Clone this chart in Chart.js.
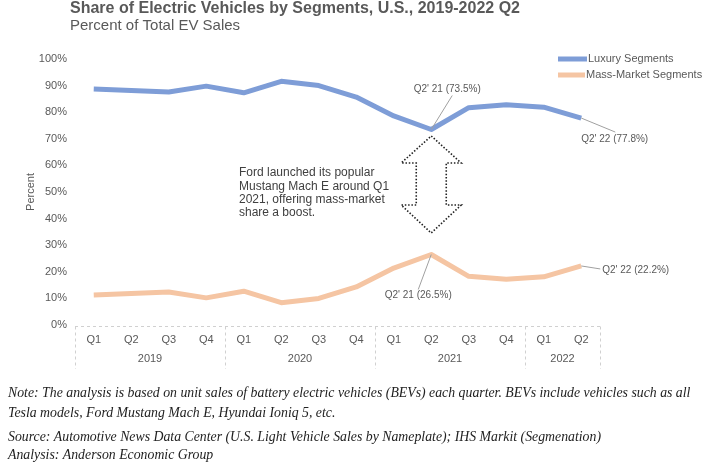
<!DOCTYPE html>
<html>
<head>
<meta charset="utf-8">
<script src="https://cdn.jsdelivr.net/npm/chart.js@4"></script>
<style>
html,body{margin:0;padding:0;background:#fff;}
#wrap{width:708px;height:463px;position:relative;}
</style>
</head>
<body>
<div id="wrap"><canvas id="c" width="708" height="463"></canvas></div>
<script>
// ---- data ----
const quarters = ['Q1','Q2','Q3','Q4','Q1','Q2','Q3','Q4','Q1','Q2','Q3','Q4','Q1','Q2'];
const years = ['2019','2020','2021','2022'];
const quartersPerYear = [4,4,4,2];
const luxury = [88.7, 88.2, 87.6, 89.8, 87.3, 91.6, 90.0, 85.7, 78.6, 73.5, 81.7, 82.8, 81.9, 77.8];
const massMarket = [11.3, 11.8, 12.4, 10.2, 12.7, 8.4, 10.0, 14.3, 21.4, 26.5, 18.3, 17.2, 18.1, 22.2];
const yTicks = [0,10,20,30,40,50,60,70,80,90,100];

const GREY = '#595959';
const BLUE = '#7e9dd7';
const PEACH = '#f5c5a3';
const SANS = '"Liberation Sans", Arial, sans-serif';
const SERIF = '"Liberation Serif", "Times New Roman", serif';

// year group centers / boundaries (in category index units)
const yearCenters = [], yearBounds = [-0.5];
{ let s = 0; quartersPerYear.forEach(n => { yearCenters.push(s + (n-1)/2); s += n; yearBounds.push(s - 0.5); }); }

const overlay = {
  id: 'overlay',
  afterDraw(chart) {
    const ctx = chart.ctx, x = chart.scales.x, y = chart.scales.y, ca = chart.chartArea;
    ctx.save();
    // titles
    ctx.fillStyle = GREY; ctx.textBaseline = 'middle'; ctx.textAlign = 'left';
    ctx.font = 'bold 16px ' + SANS;
    ctx.fillText('Share of Electric Vehicles by Segments, U.S., 2019-2022 Q2', 70, 9);
    ctx.font = '15px ' + SANS;
    ctx.fillText('Percent of Total EV Sales', 70, 26);

    // y title
    ctx.save();
    ctx.translate(31, 192); ctx.rotate(-Math.PI/2);
    ctx.textAlign = 'center'; ctx.font = '11px ' + SANS; ctx.fillStyle = GREY;
    ctx.fillText('Percent', 0, 0);
    ctx.restore();

    // dashed x-axis frame
    ctx.strokeStyle = '#d0d0d0'; ctx.lineWidth = 1; ctx.setLineDash([3,3]);
    ctx.beginPath();
    ctx.moveTo(x.getPixelForValue(-0.5), ca.bottom + 1.5);
    ctx.lineTo(x.getPixelForValue(13.5), ca.bottom + 1.5);
    yearBounds.forEach(b => {
      const px = Math.round(x.getPixelForValue(b)) + 0.5;
      ctx.moveTo(px, ca.bottom + 1.5); ctx.lineTo(px, ca.bottom + 44);
    });
    ctx.stroke();
    ctx.setLineDash([]);

    // legend
    const legend = [['Luxury Segments', BLUE, 59, 587], ['Mass-Market Segments', PEACH, 75, 585]];
    legend.forEach(([t, c, ly, tx]) => {
      ctx.strokeStyle = c; ctx.lineWidth = 5;
      ctx.beginPath(); ctx.moveTo(558, ly); ctx.lineTo(tx, ly); ctx.stroke();
      ctx.fillStyle = GREY; ctx.font = '11px ' + SANS; ctx.textAlign = 'left';
      ctx.fillText(t, tx + 1, ly);
    });

    // callouts
    const lead = (x1,y1,x2,y2) => { ctx.strokeStyle = '#a0a0a0'; ctx.lineWidth = 1; ctx.beginPath(); ctx.moveTo(x1,y1); ctx.lineTo(x2,y2); ctx.stroke(); };
    ctx.font = '10px ' + SANS; ctx.fillStyle = GREY;
    const px9 = x.getPixelForValue(9), px13 = x.getPixelForValue(13);
    const l9 = y.getPixelForValue(luxury[9]), m9 = y.getPixelForValue(massMarket[9]);
    const l13 = y.getPixelForValue(luxury[13]), m13 = y.getPixelForValue(massMarket[13]);
    lead(px9, l9, px9 + 21, l9 - 34);
    ctx.textAlign = 'center'; ctx.fillText("Q2' 21 (73.5%)", px9 + 16, l9 - 40);
    lead(px13, l13, px13 + 34, l13 + 14);
    ctx.textAlign = 'left'; ctx.fillText("Q2' 22 (77.8%)", px13, l13 + 21);
    lead(px13, m13, px13 + 19, m13 + 3);
    ctx.fillText("Q2' 22 (22.2%)", px13 + 21, m13 + 4);
    lead(px9, m9, px9 - 13, m9 + 35);
    ctx.textAlign = 'center'; ctx.fillText("Q2' 21 (26.5%)", px9 - 13, m9 + 41);

    // annotation text
    ctx.textAlign = 'left'; ctx.font = '12px ' + SANS; ctx.fillStyle = '#404040';
    ['Ford launched its popular', 'Mustang Mach E around Q1', '2021, offering mass-market', 'share a boost.']
      .forEach((t,i) => ctx.fillText(t, 239, 173 + i*13.3));

    // dotted double arrow
    const ax = px9, top = 136, wTop = 163, wBot = 205, bot = 233, hw = 30, sw = 15;
    ctx.strokeStyle = '#222'; ctx.lineWidth = 1.6; ctx.setLineDash([1.5,1.8]);
    ctx.beginPath();
    ctx.moveTo(ax, top); ctx.lineTo(ax + hw, wTop); ctx.lineTo(ax + sw, wTop);
    ctx.lineTo(ax + sw, wBot); ctx.lineTo(ax + hw, wBot); ctx.lineTo(ax, bot);
    ctx.lineTo(ax - hw, wBot); ctx.lineTo(ax - sw, wBot); ctx.lineTo(ax - sw, wTop);
    ctx.lineTo(ax - hw, wTop); ctx.closePath(); ctx.stroke();
    ctx.setLineDash([]);

    // footer
    ctx.fillStyle = '#222'; ctx.textAlign = 'left'; ctx.font = 'italic 13.8px ' + SERIF;
    ctx.fillText('Note: The analysis is based on unit sales of battery electric vehicles (BEVs) each quarter. BEVs include vehicles such as all', 8, 393);
    ctx.fillText('Tesla models, Ford Mustang Mach E, Hyundai Ioniq 5, etc.', 8, 413);
    ctx.fillText('Source: Automotive News Data Center (U.S. Light Vehicle Sales by Nameplate); IHS Markit (Segmenation)', 8, 437);
    ctx.fillText('Analysis: Anderson Economic Group', 8, 455);
    ctx.restore();
  }
};

new Chart(document.getElementById('c'), {
  type: 'line',
  data: {
    labels: quarters,
    datasets: [
      { label: 'Luxury Segments', data: luxury, borderColor: BLUE, borderWidth: 5, pointRadius: 0, tension: 0, borderJoinStyle: 'round', fill: false },
      { label: 'Mass-Market Segments', data: massMarket, borderColor: PEACH, borderWidth: 5, pointRadius: 0, tension: 0, borderJoinStyle: 'round', fill: false }
    ]
  },
  options: {
    responsive: false, animation: false,
    layout: { padding: { left: 0, right: 108, top: 59, bottom: 96 } },
    plugins: { legend: { display: false }, tooltip: { enabled: false }, title: { display: false } },
    scales: {
      y: {
        min: 0, max: 100,
        afterFit(s) { s.width = 75; },
        afterBuildTicks(s) { s.ticks = yTicks.map(v => ({ value: v })); },
        grid: { display: false, drawTicks: false }, border: { display: false },
        ticks: { padding: 8, color: GREY, font: { family: SANS, size: 11 }, callback: v => v + '%' }
      },
      x: {
        type: 'category', offset: true,
        afterFit(s) { s.height = 22; },
        grid: { display: false, drawTicks: false }, border: { display: false },
        ticks: { padding: 8, color: GREY, font: { family: SANS, size: 11 }, maxRotation: 0, autoSkip: false }
      },
      x2: {
        type: 'linear', position: 'bottom', min: -0.5, max: 13.5,
        afterFit(s) { s.height = 20; },
        afterBuildTicks(s) { s.ticks = yearCenters.map(v => ({ value: v })); },
        grid: { display: false, drawTicks: false }, border: { display: false },
        ticks: { padding: 5, color: GREY, font: { family: SANS, size: 11 }, maxRotation: 0, autoSkip: false,
          callback: v => years[yearCenters.indexOf(v)] }
      }
    }
  },
  plugins: [overlay]
});
</script>
</body>
</html>
